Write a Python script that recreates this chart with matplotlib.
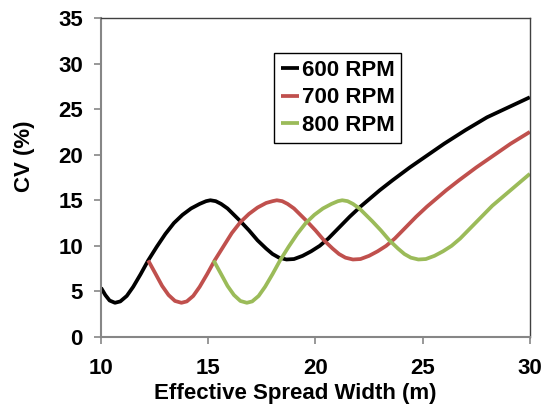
import matplotlib
matplotlib.use("Agg")
import matplotlib.pyplot as plt

plt.rcParams["font.family"] = ["Liberation Sans", "DejaVu Sans"]
plt.rcParams["font.weight"] = "bold"

# values
x_600 = [10.0, 10.2, 10.4, 10.65, 10.9, 11.2, 11.5, 11.85, 12.2, 12.6,
         13.0, 13.4, 13.8, 14.2, 14.6, 14.9, 15.1, 15.35, 15.6, 15.9,
         16.2, 16.5, 16.9, 17.3, 17.7, 18.0, 18.3, 18.65, 19.0, 19.4,
         19.8, 20.2, 20.6, 21.1, 21.6, 22.1, 22.5, 23.0, 23.6, 24.4,
         25.2, 26.0, 27.0, 28.0, 29.0, 30.0]
y_600 = [5.4, 4.6, 4.0, 3.75, 3.9, 4.5, 5.5, 6.9, 8.4, 9.9,
         11.3, 12.5, 13.4, 14.1, 14.6, 14.9, 15.0, 14.9, 14.6, 14.1,
         13.4, 12.7, 11.7, 10.6, 9.7, 9.1, 8.7, 8.5, 8.55, 8.9,
         9.4, 10.0, 10.8, 12.0, 13.2, 14.3, 15.1, 16.1, 17.2, 18.6,
         19.9, 21.2, 22.7, 24.1, 25.2, 26.3]

x_700 = [12.2, 12.55, 12.85, 13.15, 13.45, 13.75, 14.0, 14.3, 14.6, 14.95,
         15.3, 15.7, 16.1, 16.5, 16.9, 17.3, 17.7, 18.0, 18.2, 18.45,
         18.7, 19.0, 19.3, 19.6, 20.0, 20.4, 20.8, 21.1, 21.4, 21.75,
         22.1, 22.5, 22.9, 23.3, 23.7, 24.2, 24.7, 25.2, 25.6, 26.1,
         26.7, 27.5, 28.3, 29.1, 30.0]
y_700 = [8.4, 6.9, 5.6, 4.6, 3.95, 3.75, 3.9, 4.5, 5.5, 6.9,
         8.4, 9.9, 11.4, 12.6, 13.5, 14.2, 14.7, 14.9, 15.0, 14.9,
         14.6, 14.1, 13.4, 12.7, 11.7, 10.6, 9.7, 9.1, 8.7, 8.5,
         8.55, 8.9, 9.4, 10.0, 10.8, 12.0, 13.2, 14.3, 15.1, 16.1,
         17.2, 18.6, 19.9, 21.2, 22.5]

x_800 = [15.25, 15.6, 15.9, 16.2, 16.5, 16.8, 17.05, 17.35, 17.65, 18.0,
         18.35, 18.75, 19.15, 19.55, 19.95, 20.35, 20.75, 21.05, 21.25,
         21.5, 21.75, 22.05, 22.35, 22.65, 23.05, 23.45, 23.85, 24.15,
         24.45, 24.8, 25.15, 25.55, 25.95, 26.35, 26.75, 27.25, 27.75,
         28.25, 28.65, 29.3, 30.0]
y_800 = [8.4, 6.9, 5.6, 4.6, 3.95, 3.75, 3.9, 4.5, 5.5, 6.9,
         8.4, 9.9, 11.3, 12.5, 13.4, 14.1, 14.6, 14.9, 15.0,
         14.9, 14.6, 14.1, 13.4, 12.7, 11.7, 10.6, 9.7, 9.1,
         8.7, 8.5, 8.55, 8.9, 9.4, 10.0, 10.8, 12.0, 13.2,
         14.4, 15.2, 16.5, 17.9]

x_ticks = [10, 15, 20, 25, 30]
y_ticks = [0, 5, 10, 15, 20, 25, 30, 35]

fig = plt.figure(figsize=(5.44, 4.05), dpi=100)
ax = fig.add_axes([0.1857, 0.168, 0.7883, 0.7876])

ax.plot(x_600, y_600, color="black", lw=2.7, label="600 RPM",
        solid_joinstyle="round", solid_capstyle="butt")
ax.plot(x_700, y_700, color="#C0504D", lw=2.7, label="700 RPM",
        solid_joinstyle="round", solid_capstyle="butt")
ax.plot(x_800, y_800, color="#9BBB59", lw=2.7, label="800 RPM",
        solid_joinstyle="round", solid_capstyle="butt")

ax.set_xlim(10, 30)
ax.set_ylim(0, 35)
ax.set_xticks(x_ticks)
ax.set_yticks(y_ticks)

for side in ["left", "bottom"]:
    ax.spines[side].set_color("#868686")
    ax.spines[side].set_linewidth(1.5)
for side in ["top", "right"]:
    ax.spines[side].set_color("#404040")
    ax.spines[side].set_linewidth(1.0)

ax.tick_params(axis="both", direction="out", length=5, width=1.2,
               color="#868686", labelsize=16)
ax.tick_params(axis="x", pad=10)
ax.tick_params(axis="y", pad=8)

ax.set_xlabel("Effective Spread Width (m)", fontsize=16, fontweight="bold")
ax.set_ylabel("CV (%)", fontsize=16, fontweight="bold")
ax.xaxis.set_label_coords(0.452, -0.143)
ax.yaxis.set_label_coords(-0.155, 0.567)

leg = ax.legend(loc="upper left", bbox_to_anchor=(0.403, 0.89),
                fontsize=16, handlelength=0.85, handletextpad=0.1,
                borderpad=0.3, labelspacing=0.3, borderaxespad=0,
                fancybox=False, framealpha=1)
leg.get_frame().set_edgecolor("black")
leg.get_frame().set_linewidth(1.0)

fig.savefig("out.png", dpi=100)
